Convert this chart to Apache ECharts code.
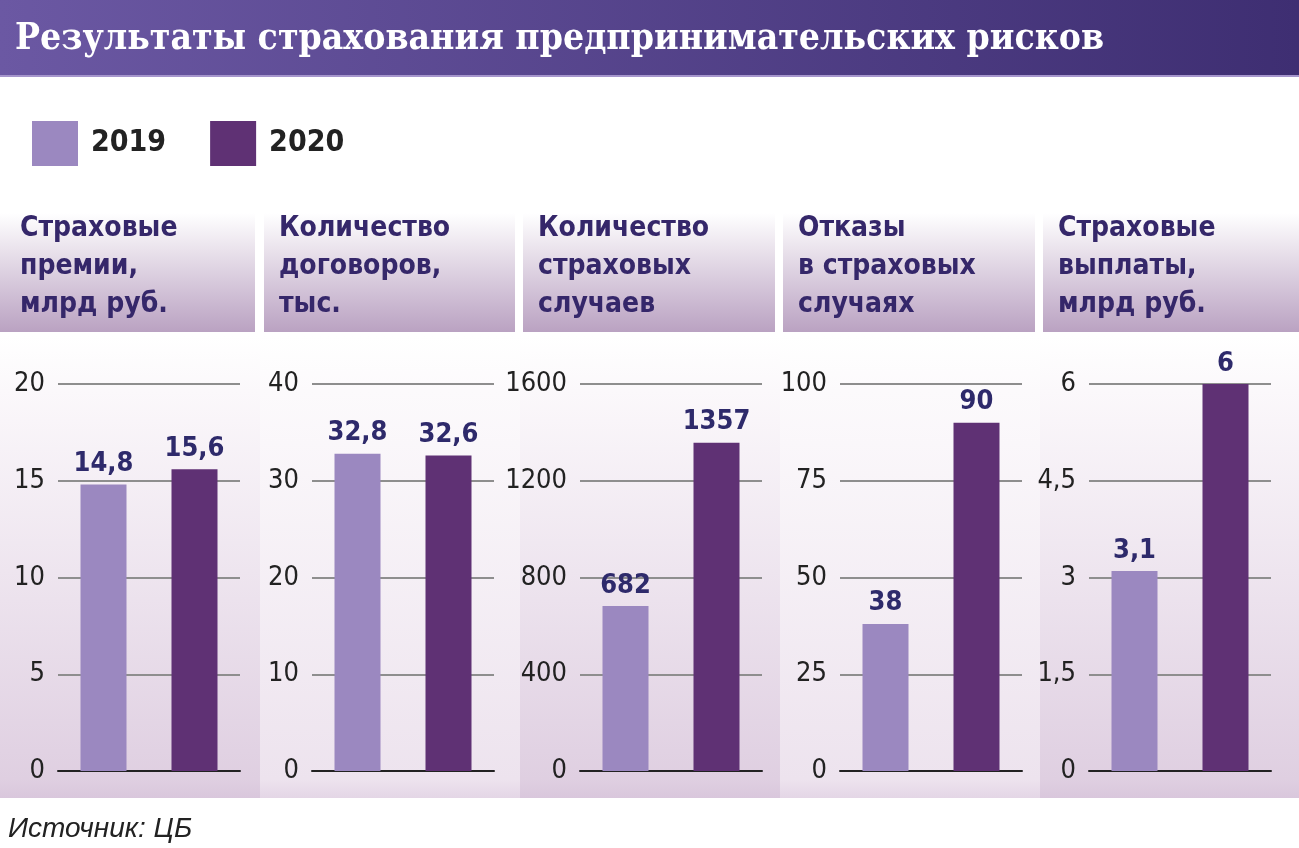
<!DOCTYPE html>
<html>
<head>
<meta charset="utf-8">
<script src="https://cdn.jsdelivr.net/npm/echarts@6/dist/echarts.min.js"></script>
<style>
html,body{margin:0;padding:0;background:#fff;}
#chart{width:1299px;height:848px;}
</style>
</head>
<body>
<div id="chart"></div>
<script>
const chartTitle = 'Результаты страхования предпринимательских рисков';
const sourceText = 'Источник: ЦБ';
const seriesNames = ['2019', '2020'];
const panelTitles = [
  'Страховые\nпремии,\nмлрд руб.',
  'Количество\nдоговоров,\nтыс.',
  'Количество\nстраховых\nслучаев',
  'Отказы\nв страховых\nслучаях',
  'Страховые\nвыплаты,\nмлрд руб.'
];
const values2019 = [14.8, 32.8, 682, 38, 3.1];
const values2020 = [15.6, 32.6, 1357, 90, 6];
const axisMax = [20, 40, 1600, 100, 6];
const axisInterval = [5, 10, 400, 25, 1.5];

const NARROW = "'Liberation Sans Narrow', 'DejaVu Sans Condensed', sans-serif";
const C2019 = '#9b88c0';
const C2020 = '#5f3174';
const LABEL_C = '#2e2a6b';

const gridLeft = [58, 312, 580, 840, 1089];
const panelX = [0, 260, 520, 780, 1040];
const headerX = [0, 264, 523, 783, 1043];
const headerW = [255, 251, 252, 252, 256];
const headerTextX = [20, 279, 538, 798, 1058];

const fmt = v => String(v).replace('.', ',');

const graphics = [];
graphics.push({
  type: 'rect', z: -10, shape: {x: 0, y: 0, width: 1299, height: 75},
  style: {fill: new echarts.graphic.LinearGradient(0, 0, 1, 0, [
    {offset: 0, color: '#6b58a3'}, {offset: 1, color: '#3e2e72'}])}
});
graphics.push({type: 'rect', z: -10, shape: {x: 0, y: 75, width: 1299, height: 2}, style: {fill: '#a595cc'}});
graphics.push({
  type: 'text', z: 5, x: 15, y: 39,
  style: {text: chartTitle, fill: '#ffffff', font: "bold 37px 'DejaVu Serif Condensed', 'DejaVu Serif', serif", textVerticalAlign: 'middle'}
});

for (let i = 0; i < 5; i++) {
  const alt = i % 2 === 1;
  graphics.push({
    type: 'rect', z: -10, shape: {x: panelX[i], y: 336, width: 260, height: 462},
    style: {fill: new echarts.graphic.LinearGradient(0, 0, 0, 1, alt ? [
      {offset: 0, color: '#ffffff'}, {offset: 0.12, color: '#fcfafc'}, {offset: 0.96, color: '#ede3ee'}, {offset: 1, color: '#e4d6e6'}
    ] : [
      {offset: 0, color: '#ffffff'}, {offset: 0.12, color: '#fbf8fb'}, {offset: 0.96, color: '#dfcfe1'}, {offset: 1, color: '#d9c7dc'}
    ])}
  });
  graphics.push({
    type: 'rect', z: -9, shape: {x: headerX[i], y: 213, width: headerW[i], height: 119},
    style: {fill: new echarts.graphic.LinearGradient(0, 0, 0, 1, [
      {offset: 0, color: '#ffffff'}, {offset: 1, color: '#baa2c2'}])}
  });
  graphics.push({
    type: 'text', z: 5, x: headerTextX[i], y: 210,
    style: {text: panelTitles[i], fill: '#35276a', font: "bold 28px " + NARROW, lineHeight: 38, textVerticalAlign: 'top'}
  });
}
graphics.push({
  type: 'text', z: 5, x: 8, y: 829,
  style: {text: sourceText, fill: '#222', font: "italic 28px 'Liberation Sans', sans-serif", textVerticalAlign: 'middle'}
});

const grids = [], xAxes = [], yAxes = [], series = [];
for (let i = 0; i < 5; i++) {
  grids.push({left: gridLeft[i], top: 384, width: 182, height: 387});
  xAxes.push({
    type: 'category', gridIndex: i, data: seriesNames,
    axisLine: {show: true, lineStyle: {color: '#222', width: 2}},
    axisTick: {show: false}, axisLabel: {show: false}
  });
  yAxes.push({
    type: 'value', gridIndex: i, min: 0, max: axisMax[i], interval: axisInterval[i],
    axisLine: {show: false}, axisTick: {show: false},
    splitLine: {lineStyle: {color: '#8e8e8e', width: 2}},
    axisLabel: {margin: 13, fontSize: 27, color: '#222', fontFamily: NARROW, formatter: v => fmt(v)}
  });
  const lbl = {
    show: true, position: 'top', distance: 7, fontSize: 27, fontWeight: 'bold', color: LABEL_C,
    fontFamily: NARROW, formatter: p => fmt(p.value)
  };
  series.push({
    name: seriesNames[0], type: 'bar', xAxisIndex: i, yAxisIndex: i, barWidth: 46, barGap: '-100%',
    itemStyle: {color: C2019}, label: lbl, data: [values2019[i], '-']
  });
  series.push({
    name: seriesNames[1], type: 'bar', xAxisIndex: i, yAxisIndex: i, barWidth: 46, barGap: '-100%',
    itemStyle: {color: C2020}, label: lbl, data: ['-', values2020[i]]
  });
}

const chart = echarts.init(document.getElementById('chart'), null, {renderer: 'canvas'});
chart.setOption({
  animation: false,
  backgroundColor: '#ffffff',
  legend: {
    data: seriesNames, left: 32, top: 121, padding: 0, itemWidth: 46, itemHeight: 45, itemGap: 44,
    icon: 'rect', selectedMode: false,
    textStyle: {fontSize: 30, fontWeight: 'bold', color: '#222', fontFamily: NARROW, padding: [0, 0, 0, 8]}
  },
  graphic: graphics,
  grid: grids, xAxis: xAxes, yAxis: yAxes, series: series
});
</script>
</body>
</html>
